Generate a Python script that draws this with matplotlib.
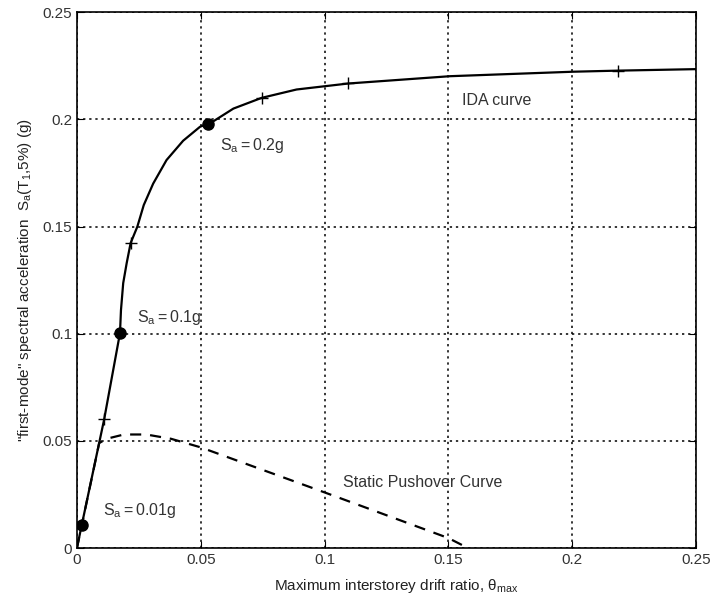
import numpy as np
import matplotlib
matplotlib.use("Agg")
import matplotlib.pyplot as plt

plt.rcParams['font.family'] = ['Liberation Sans', 'DejaVu Sans']
plt.rcParams['mathtext.fontset'] = 'custom'
plt.rcParams['mathtext.rm'] = 'Liberation Sans'
plt.rcParams['mathtext.it'] = 'Liberation Sans'

# IDA curve
ida_x = [0, 0.002, 0.011, 0.0174, 0.0178, 0.0187, 0.0201, 0.0217, 0.0244, 0.027,
         0.0308, 0.0362, 0.0429, 0.0497, 0.053, 0.055, 0.0632, 0.0746, 0.0887,
         0.1096, 0.1506, 0.2005, 0.2185, 0.25]
ida_y = [0, 0.011, 0.060, 0.1003, 0.111, 0.1236, 0.1329, 0.1423, 0.1499, 0.160,
         0.170, 0.181, 0.190, 0.1965, 0.198, 0.199, 0.205, 0.210, 0.2139,
         0.2167, 0.2201, 0.2222, 0.2227, 0.2234]

# tick marks on the IDA curve
tick_x = [0.011, 0.0217, 0.0746, 0.1096, 0.2185]
tick_y = [0.060, 0.1423, 0.210, 0.2167, 0.2227]

# highlighted points
dot_x = [0.002, 0.0174, 0.053]
dot_y = [0.011, 0.1003, 0.198]
dot_labels = ['$\\mathrm{S_a = 0.01g}$', '$\\mathrm{S_a = 0.1g}$', '$\\mathrm{S_a = 0.2g}$']
label_x = [0.0105, 0.0242, 0.0578]
label_y = [0.0177, 0.1077, 0.188]

# static pushover curve
spo_x = [0, 0.009, 0.012, 0.019, 0.028, 0.038, 0.05, 0.1, 0.15, 0.158]
spo_y = [0, 0.049, 0.051, 0.053, 0.053, 0.051, 0.047, 0.026, 0.0047, 0]

fig = plt.figure(figsize=(7.12, 6.05), dpi=100)
ax = fig.add_axes([0.108, 0.094, 0.8695, 0.886])

ax.plot(ida_x, ida_y, 'k-', lw=1.6)
ax.plot(spo_x, spo_y, 'k--', lw=1.6, dashes=(5, 4))
ax.plot(tick_x, tick_y, 'k+', ms=8, mew=1.0)
ax.plot(dot_x, dot_y, 'ko', ms=8)

for lx, ly, t in zip(label_x, label_y, dot_labels):
    ax.text(lx, ly, t, fontsize=11.5, va='center', ha='left', color='#333333')
ax.text(0.1555, 0.209, 'IDA curve', fontsize=11.5, va='center', color='#333333')
ax.text(0.1074, 0.0308, 'Static Pushover Curve', fontsize=11.5, va='center', color='#333333')

ax.set_xlim(0, 0.25)
ax.set_ylim(0, 0.25)
ax.set_xticks([0, 0.05, 0.1, 0.15, 0.2, 0.25])
ax.set_yticks([0, 0.05, 0.1, 0.15, 0.2, 0.25])
ax.set_xticklabels(['0', '0.05', '0.1', '0.15', '0.2', '0.25'])
ax.set_yticklabels(['0', '0.05', '0.1', '0.15', '0.2', '0.25'])
ax.tick_params(direction='in', top=True, right=True, length=5, labelsize=11,
               colors='k', labelcolor='#333333')
ax.grid(True, ls=(0, (1.5, 2.5)), color='k', lw=1.1)
for s in ax.spines.values():
    s.set_linewidth(1.2)

ax.set_xlabel('Maximum interstorey drift ratio, $\\mathrm{\\theta_{max}}$', fontsize=11,
              color='#222222')
ax.xaxis.set_label_coords(0.516, -0.054)
ax.set_ylabel('"first-mode" spectral acceleration  $\\mathrm{S_a(T_1{,}5\\%)}$ (g)', fontsize=11,
              labelpad=6, color='#222222')

fig.savefig('out.png', dpi=100)
